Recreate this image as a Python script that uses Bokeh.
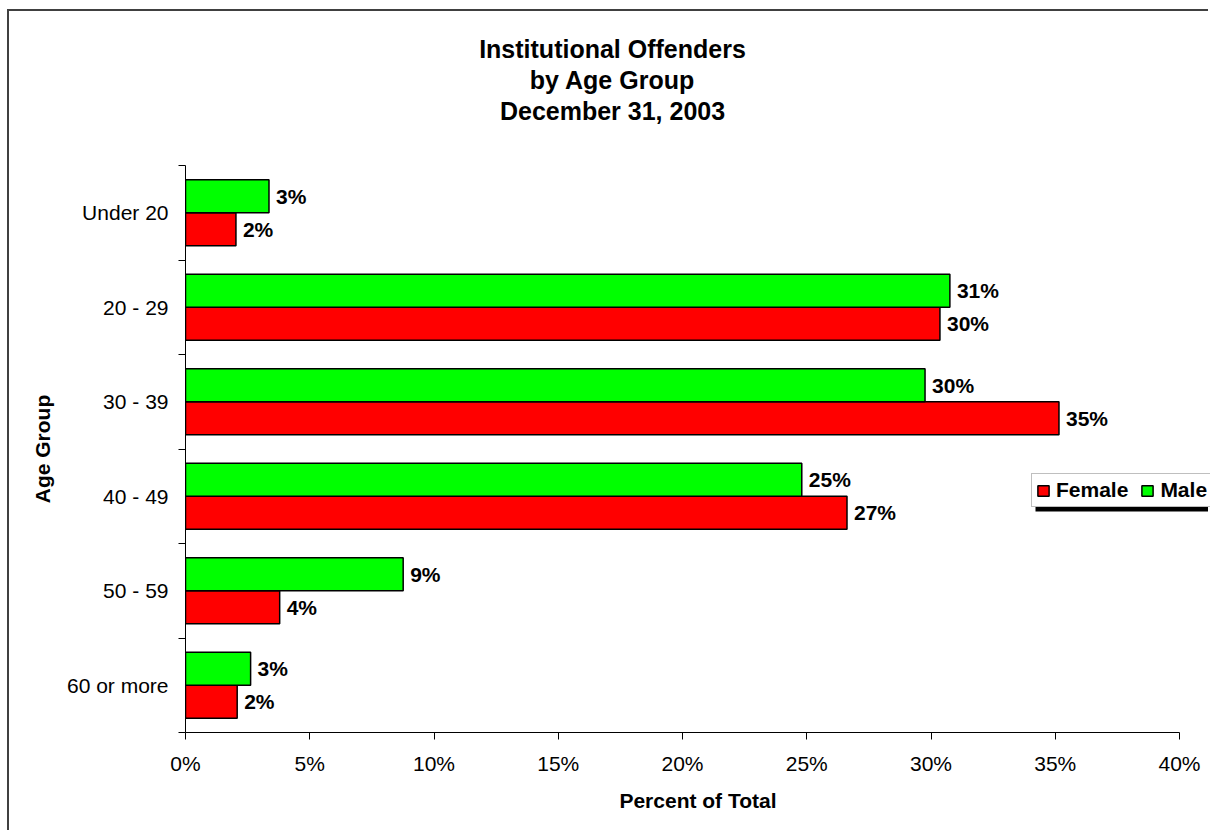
from bokeh.plotting import figure
from bokeh.models import (Range1d, LinearAxis, FixedTicker, PrintfTickFormatter,
                          Legend, LegendItem, Title, BoxAnnotation, ColumnDataSource)
from bokeh.core.properties import value
from bokeh.embed import file_html
from bokeh.resources import INLINE

# ---------------- data ----------------
categories = ["Under 20", "20 - 29", "30 - 39", "40 - 49", "50 - 59", "60 or more"]
female = [2.03, 30.36, 35.15, 26.62, 3.79, 2.08]
male = [3.36, 30.76, 29.76, 24.80, 8.76, 2.62]
x_ticks = [0, 5, 10, 15, 20, 25, 30, 35, 40]
title_lines = ["Institutional Offenders", "by Age Group", "December 31, 2003"]
y_title = "Age Group"
x_title = "Percent of Total"

FONT = "Liberation Sans"
n = len(categories)
pos = [n - 1 - i for i in range(n)]
BAR_H = 0.35

# ---------------- layout constants (pixels) ----------------
W, H = 1201, 821
LEFT, TOP, BOTTOM = 176, 114, 100
AXIS_W = 994                      # pixels spanned by 0..40 %
AXIS_H = 567                      # pixels spanned by the six categories
FRAME_W = W - LEFT                # frame runs to the right edge
FRAME_H = H - TOP - BOTTOM        # frame reaches up to the title block
X_MAX = 40 * FRAME_W / AXIS_W
Y_MAX = -0.5 + n * FRAME_H / AXIS_H

# Helvetica-Bold advance widths (per 1000 em) used to centre rotated/offset texts
HB = {" ": 278, ",": 278, "A": 722, "D": 722, "G": 778, "I": 278, "O": 778,
      "a": 556, "b": 611, "c": 556, "d": 611, "e": 556, "f": 333, "g": 611,
      "i": 278, "l": 278, "m": 889, "n": 611, "o": 611, "p": 611, "r": 389,
      "s": 556, "t": 333, "u": 611, "y": 556}

def text_width(s, size):
    return sum(HB.get(ch, 556) for ch in s) * size / 1000.0

p = figure(width=W, height=H,
           x_range=Range1d(0, X_MAX), y_range=Range1d(-0.5, Y_MAX),
           x_axis_type=None, y_axis_type=None,
           toolbar_location=None, output_backend="svg",
           min_border_left=LEFT, min_border_right=0,
           min_border_top=TOP, min_border_bottom=BOTTOM)
p.outline_line_color = None
p.background_fill_color = "white"
p.border_fill_color = "white"
p.styles = {"margin-left": "7px", "margin-top": "9px",
            "border-left": "2px solid #404040", "border-top": "2px solid #404040"}

src_f = ColumnDataSource(dict(y=[c - BAR_H / 2 for c in pos], v=female,
                              lbl=[f"{round(v)}%" for v in female]))
src_m = ColumnDataSource(dict(y=[c + BAR_H / 2 for c in pos], v=male,
                              lbl=[f"{round(v)}%" for v in male]))

rf = p.hbar(y="y", left=0, right="v", height=BAR_H, source=src_f,
            fill_color="#FF0000", line_color="black", line_width=1.5)
rm = p.hbar(y="y", left=0, right="v", height=BAR_H, source=src_m,
            fill_color="#00FF00", line_color="black", line_width=1.5)

for src in (src_f, src_m):
    p.text(x="v", y="y", text="lbl", source=src, x_offset=7,
           text_baseline="middle", text_align="left",
           text_font=value(FONT), text_font_style="bold",
           text_font_size="21px", text_color="black")

# x axis
xaxis = LinearAxis(ticker=FixedTicker(ticks=x_ticks),
                   formatter=PrintfTickFormatter(format="%d%%"),
                   axis_label=x_title, bounds=(0, 40))
xaxis.axis_line_color = "black"
xaxis.major_tick_line_color = "black"
xaxis.major_tick_out = 7
xaxis.major_tick_in = 0
xaxis.minor_tick_line_color = None
xaxis.major_label_text_font = FONT
xaxis.major_label_text_font_size = "21px"
xaxis.major_label_text_color = "black"
xaxis.major_label_standoff = 12
xaxis.axis_label_text_font = FONT
xaxis.axis_label_text_font_size = "21px"
xaxis.axis_label_text_font_style = "bold"
xaxis.axis_label_text_color = "black"
xaxis.axis_label_standoff = 11
p.add_layout(xaxis, "below")

# y axis: labels at category centres, ticks at category boundaries
yaxis = LinearAxis(ticker=FixedTicker(ticks=pos,
                                      minor_ticks=[c - 0.5 for c in range(n + 1)]),
                   bounds=(-0.5, n - 0.5))
yaxis.major_label_overrides = {c: categories[i] for i, c in enumerate(pos)}
yaxis.axis_line_color = "black"
yaxis.major_tick_line_color = None
yaxis.major_tick_out = 0
yaxis.major_tick_in = 0
yaxis.minor_tick_line_color = "black"
yaxis.minor_tick_out = 7
yaxis.minor_tick_in = 0
yaxis.major_label_text_font = FONT
yaxis.major_label_text_font_size = "21px"
yaxis.major_label_text_color = "black"
yaxis.major_label_standoff = 10
p.add_layout(yaxis, "left")

# y-axis title, centred on the six categories (not on the taller frame)
ytitle = Title(text=y_title, align="left",
               offset=AXIS_H / 2 - text_width(y_title, 21) / 2,
               standoff=19, text_font=FONT, text_font_size="21px",
               text_font_style="bold", text_color="black")
p.add_layout(ytitle, "left")

# legend with a drop shadow
LEG_X, LEG_Y = 846, 225
shadow = BoxAnnotation(left=LEG_X + 4, right=W, bottom=LEG_Y - 4, top=LEG_Y + 28,
                       left_units="screen", right_units="screen",
                       bottom_units="screen", top_units="screen",
                       fill_color="black", fill_alpha=1.0, line_color=None)
p.add_layout(shadow)

legend = Legend(items=[LegendItem(label="Female", renderers=[rf]),
                       LegendItem(label="Male", renderers=[rm])],
                location=(LEG_X, LEG_Y), orientation="horizontal",
                padding=4, spacing=12, margin=0, label_standoff=6,
                glyph_width=14, glyph_height=13,
                label_text_font=FONT, label_text_font_size="21px",
                label_text_font_style="bold", label_text_color="black",
                background_fill_color="white", background_fill_alpha=1.0,
                border_line_color="#808080", border_line_width=1)
p.add_layout(legend, "center")

# title: three centred lines
TITLE_SIZE = 25
TITLE_CENTRE = 603 - LEFT          # centre of the chart area, relative to the frame
for line in reversed(title_lines):
    t = Title(text=line, align="left",
              offset=TITLE_CENTRE - text_width(line, TITLE_SIZE) / 2,
              standoff=1, text_font=FONT, text_font_size=f"{TITLE_SIZE}px",
              text_font_style="bold", text_color="black")
    p.add_layout(t, "above")

open("out.html", "w").write(file_html(p, INLINE))
